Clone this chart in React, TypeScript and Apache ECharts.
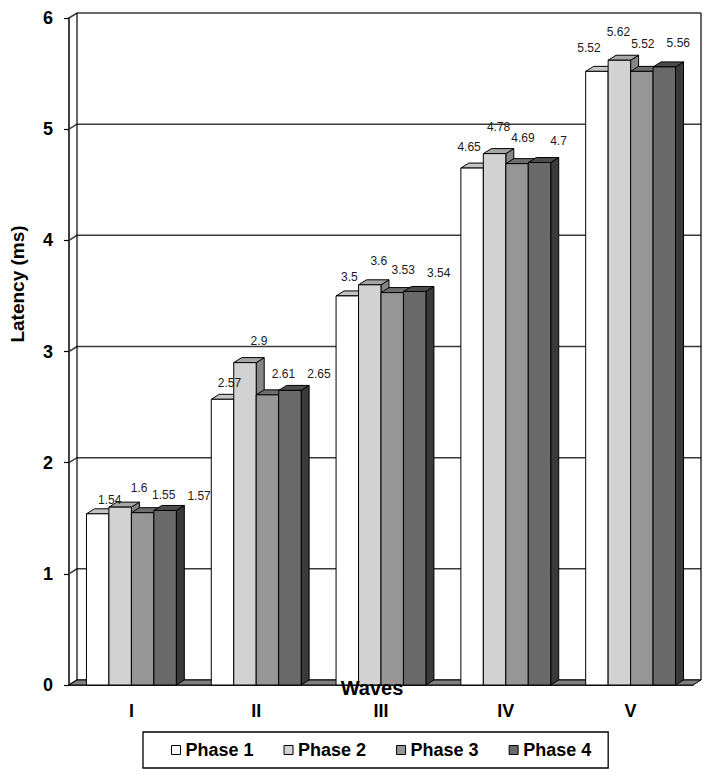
import React, { useEffect, useRef } from "react";
import * as echarts from "echarts";

const categories = ["I", "II", "III", "IV", "V"];
const phase1 = [1.54, 2.57, 3.5, 4.65, 5.52];
const phase2 = [1.6, 2.9, 3.6, 4.78, 5.62];
const phase3 = [1.55, 2.61, 3.53, 4.69, 5.52];
const phase4 = [1.57, 2.65, 3.54, 4.7, 5.56];
const seriesNames = ["Phase 1", "Phase 2", "Phase 3", "Phase 4"];
const yTicks = [0, 1, 2, 3, 4, 5, 6];

const FONT = "'Liberation Sans', Arial, Helvetica, sans-serif";
const DX = 8;
const DY = 5;
const BAR_RATIO = 0.18;
const LABEL_DX = [12, 19, 21, 34];
const LABEL_DY = [-2, 3, 2, -2];
const faceColors = [
  { front: "#ffffff", top: "#c4c4c4", side: "#a8a8a8" },
  { front: "#d2d2d2", top: "#a6a6a6", side: "#868686" },
  { front: "#969696", top: "#6e6e6e", side: "#5c5c5c" },
  { front: "#6a6a6a", top: "#4c4c4c", side: "#3a3a3a" },
];

const allSeries = [phase1, phase2, phase3, phase4];

function barGeom(api: any, ci: number, v: number, s: number) {
  const p = api.coord([ci, v]);
  const b = api.coord([ci, 0]);
  const band = api.size([1, 0])[0];
  const bw = band * BAR_RATIO;
  const x0 = p[0] - 2 * bw + s * bw;
  return { x0, x1: x0 + bw, yTop: p[1], yBase: b[1], bw };
}

const makeBarRender = (s: number) => (params: any, api: any) => {
  const ci = api.value(0);
  const v = api.value(1);
  const { x0, x1, yTop, yBase, bw } = barGeom(api, ci, v, s);
  const c = faceColors[s];
  const st = { stroke: "#000", lineWidth: 1 };
  return {
    type: "group",
    children: [
      {
        type: "polygon",
        shape: { points: [[x1, yTop], [x1 + DX, yTop - DY], [x1 + DX, yBase - DY], [x1, yBase]] },
        style: { fill: c.side, ...st },
      },
      {
        type: "polygon",
        shape: { points: [[x0, yTop], [x0 + DX, yTop - DY], [x1 + DX, yTop - DY], [x1, yTop]] },
        style: { fill: c.top, ...st },
      },
      {
        type: "rect",
        shape: { x: x0, y: yTop, width: bw, height: yBase - yTop },
        style: { fill: c.front, ...st },
      },
    ],
  };
};

export default function App() {
  const ref = useRef<HTMLDivElement>(null);
  useEffect(() => {
    if (!ref.current) return;
    const chart = echarts.init(ref.current, null, { renderer: "svg" });

    const gridSeries = {
      type: "custom",
      name: "grid",
      silent: true,
      data: yTicks.map((t) => [0, t]),
      encode: { x: 0, y: 1 },
      renderItem: (params: any, api: any) => {
        const cs = params.coordSys;
        const y = api.coord([0, api.value(1)])[1];
        const xl = cs.x;
        const xr = cs.x + cs.width;
        return {
          type: "polyline",
          shape: { points: [[xl, y], [xl + DX, y - DY], [xr + DX, y - DY]] },
          style: { stroke: "#3a3a3a", lineWidth: 1.5, fill: null },
        };
      },
    };

    const frameSeries = {
      type: "custom",
      name: "frame",
      silent: true,
      data: [[0, 0]],
      encode: { x: 0, y: 1 },
      renderItem: (params: any, api: any) => {
        const cs = params.coordSys;
        const xl = cs.x;
        const xr = cs.x + cs.width;
        const yt = cs.y;
        const yb = cs.y + cs.height;
        return {
          type: "group",
          children: [
            {
              type: "polygon",
              shape: { points: [[xl, yb], [xr, yb], [xr + DX, yb - DY], [xl + DX, yb - DY]] },
              style: { fill: "#808080", stroke: "#000", lineWidth: 1 },
            },
            {
              type: "line",
              shape: { x1: xl + DX, y1: yt - DY, x2: xl + DX, y2: yb - DY },
              style: { stroke: "#000", lineWidth: 1.2 },
            },
            {
              type: "line",
              shape: { x1: xr + DX, y1: yt - DY, x2: xr + DX, y2: yb - DY },
              style: { stroke: "#000", lineWidth: 1.2 },
            },
          ],
        };
      },
    };

    const barSeries = allSeries.map((vals, s) => ({
      type: "custom",
      name: seriesNames[s],
      itemStyle: { color: faceColors[s].front, borderColor: "#000", borderWidth: 1 },
      data: vals.map((v, i) => [i, v]),
      encode: { x: 0, y: 1 },
      renderItem: makeBarRender(s),
    }));

    const labelData: number[][] = [];
    allSeries.forEach((vals, s) => vals.forEach((v, i) => labelData.push([i, v, s])));

    const labelSeries = {
      type: "custom",
      name: "labels",
      silent: true,
      z: 5,
      data: labelData,
      encode: { x: 0, y: 1 },
      renderItem: (params: any, api: any) => {
        const ci = api.value(0);
        const v = api.value(1);
        const s = api.value(2);
        const { x0, bw, yTop } = barGeom(api, ci, v, s);
        return {
          type: "text",
          x: x0 + bw / 2 + LABEL_DX[s] - 5 * ci,
          y: yTop - (16 + 2.4 * ci + LABEL_DY[s]),
          style: {
            text: String(v),
            fill: "#1a1a1a",
            fontSize: 12,
            fontFamily: FONT,
            align: "center",
            verticalAlign: "middle",
          },
        };
      },
    };

    chart.setOption({
      animation: false,
      backgroundColor: "#ffffff",
      grid: { left: 69, right: 15, top: 18, bottom: 94 },
      xAxis: {
        type: "category",
        data: categories,
        axisLine: { lineStyle: { color: "#000", width: 1.5 } },
        axisTick: { length: 5, lineStyle: { color: "#000", width: 1.2 } },
        axisLabel: { fontSize: 18, fontWeight: "bold", color: "#000", fontFamily: FONT, margin: 17 },
        splitLine: { show: false },
      },
      yAxis: {
        type: "value",
        min: 0,
        max: 6,
        interval: 1,
        axisLine: { show: true, lineStyle: { color: "#000", width: 1.5 } },
        axisTick: { show: true, length: 5, lineStyle: { color: "#000", width: 1.2 } },
        axisLabel: { fontSize: 18, fontWeight: "bold", color: "#000", fontFamily: FONT, margin: 16 },
        splitLine: { show: false },
      },
      legend: {
        data: seriesNames.map((n, i) => ({
          name: n,
          itemStyle: { color: faceColors[i].front, borderColor: "#000", borderWidth: 1 },
        })),
        icon: "rect",
        itemWidth: 9,
        itemHeight: 9,
        itemGap: 30,
        left: 143,
        top: 732,
        padding: [9, 17, 9, 28],
        borderColor: "#000",
        borderWidth: 1.3,
        selectedMode: false,
        textStyle: { fontSize: 18, fontWeight: "bold", color: "#000", fontFamily: FONT },
      },
      graphic: [
        {
          type: "text",
          x: 372,
          y: 688,
          z: 100,
          style: {
            text: "Waves",
            fontSize: 20,
            fontWeight: "bold",
            fontFamily: FONT,
            fill: "#000",
            align: "center",
            verticalAlign: "middle",
          },
        },
        {
          type: "text",
          x: 17,
          y: 284,
          rotation: Math.PI / 2,
          z: 100,
          style: {
            text: "Latency (ms)",
            fontSize: 19,
            fontWeight: "bold",
            fontFamily: FONT,
            fill: "#000",
            align: "center",
            verticalAlign: "middle",
          },
        },
      ],
      series: [gridSeries, frameSeries, ...barSeries, labelSeries],
    });
    return () => chart.dispose();
  }, []);
  return (
    <div
      ref={ref}
      style={{ position: "fixed", left: 0, top: 0, width: 708, height: 779, background: "#fff" }}
    />
  );
}
